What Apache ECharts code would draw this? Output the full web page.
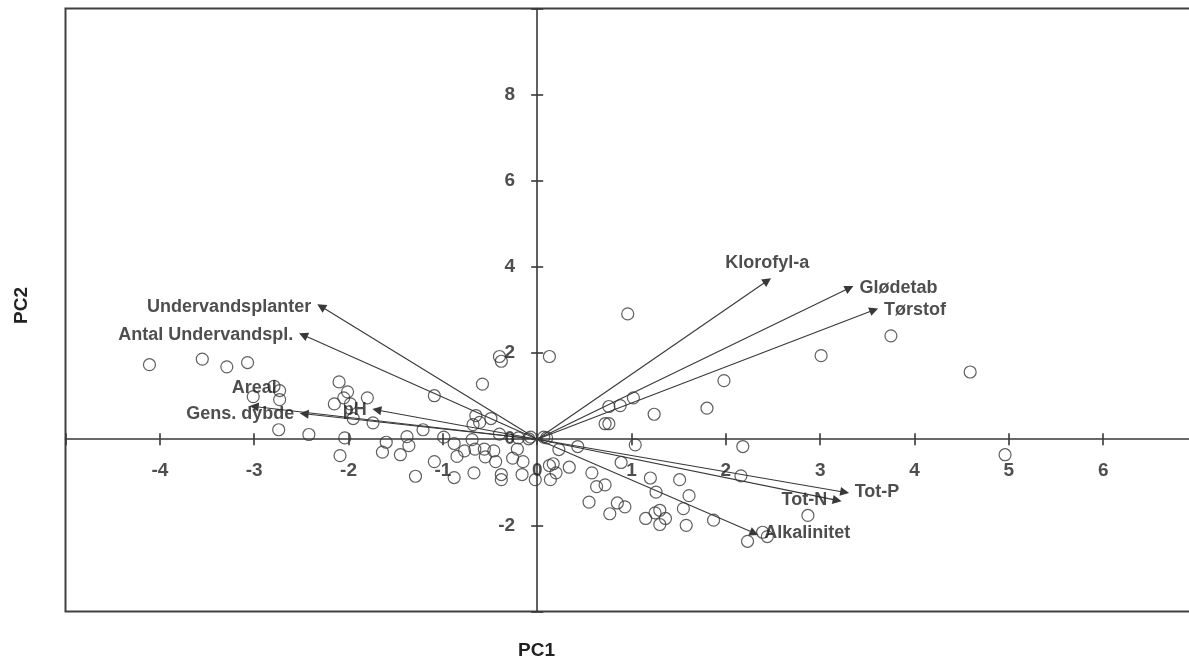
<!DOCTYPE html>
<html>
<head>
<meta charset="utf-8">
<script src="https://cdn.jsdelivr.net/npm/echarts@6/dist/echarts.min.js"></script>
<style>
  html, body { margin: 0; padding: 0; background: #ffffff; }
  #chart { width: 1189px; height: 663px; }
</style>
</head>
<body>
<div id="chart"></div>
<script>
// Site scores on the first two principal components
const sitePC1 = [
  -4.11, -3.55, -3.29, -3.07, -2.79, -2.73, -2.73, -3.01, -2.74, -2.42,
  -2.10, -2.01, -2.05, -2.15, -1.98, -1.80, -1.95, -1.74, -2.04, -2.09,
  -1.60, -1.64, -1.38, -1.36, -1.45, -1.21, -1.29, -0.40, -0.38, 0.13,
  -0.58, -1.09, -0.65, -0.61, -0.68, -0.49, -0.40, -0.99, -0.88, -0.69,
  -0.77, -0.66, -0.56, -0.46, -0.20, -0.07, -0.21, -0.85, -1.09, -0.55,
  -0.44, -0.26, -0.15, -0.67, -0.88, -0.38, -0.38, -0.16, -0.02, 0.13,
  0.17, 0.14, 0.20, 0.34, 0.07, 0.23, 0.43, 0.58, 0.63, 0.76,
  0.72, 1.04, 2.18, 0.89, 1.20, 1.51, 2.16, 0.72, 1.26, 1.61,
  0.55, 0.85, 0.93, 0.77, 1.30, 1.25, 1.55, 1.15, 1.36, 1.30,
  1.58, 1.87, 2.23, 2.39, 2.44, 0.96, 3.01, 3.75, 4.59, 1.98,
  1.80, 1.24, 0.76, 0.88, 1.02, 4.96, 2.87, -0.09, 0.10
];
const sitePC2 = [
  1.73, 1.86, 1.68, 1.78, 1.23, 1.13, 0.92, 0.99, 0.22, 0.11,
  1.33, 1.10, 0.96, 0.82, 0.82, 0.96, 0.48, 0.38, 0.03, -0.38,
  -0.07, -0.30, 0.06, -0.15, -0.36, 0.22, -0.86, 1.92, 1.81, 1.92,
  1.28, 1.01, 0.55, 0.39, 0.34, 0.48, 0.12, 0.05, -0.10, -0.01,
  -0.27, -0.23, -0.23, -0.27, 0.03, 0.05, -0.23, -0.40, -0.52, -0.41,
  -0.52, -0.44, -0.52, -0.78, -0.89, -0.82, -0.94, -0.82, -0.94, -0.61,
  -0.57, -0.94, -0.78, -0.65, 0.05, -0.24, -0.17, -0.78, -1.10, 0.36,
  0.36, -0.13, -0.17, -0.54, -0.90, -0.94, -0.85, -1.06, -1.23, -1.31,
  -1.46, -1.48, -1.57, -1.73, -1.65, -1.71, -1.61, -1.84, -1.84, -1.98,
  -2.00, -1.88, -2.37, -2.16, -2.26, 2.91, 1.94, 2.40, 1.56, 1.36,
  0.72, 0.58, 0.76, 0.78, 0.96, -0.36, -1.77, 0.01, 0.03
];

// Variable loadings (arrow end points)
const loadingNames = [
  'Undervandsplanter', 'Antal Undervandspl.', 'Areal', 'Gens. dybde', 'pH',
  'Klorofyl-a', 'Glødetab', 'Tørstof', 'Tot-P', 'Tot-N', 'Alkalinitet'
];
const loadingPC1 = [-2.29, -2.48, -3.00, -2.47, -1.70, 2.44, 3.31, 3.57, 3.26, 3.18, 2.30];
const loadingPC2 = [3.08, 2.42, 0.76, 0.59, 0.68, 3.68, 3.51, 3.00, -1.23, -1.42, -2.18];

// Tick labels printed along the two axes (which cross at the origin)
const xTickLabels = [-4, -3, -2, -1, 0, 1, 2, 3, 4, 5, 6];
const yTickLabels = [-2, 0, 2, 4, 6, 8];

// Where each variable name sits relative to its arrow head
const labelSide = {
  'Undervandsplanter': 'left',
  'Antal Undervandspl.': 'left',
  'Areal': 'top',
  'Gens. dybde': 'left',
  'pH': 'left',
  'Klorofyl-a': 'top',
  'Glødetab': 'right',
  'Tørstof': 'right',
  'Tot-P': 'right',
  'Tot-N': 'left',
  'Alkalinitet': 'right'
};

const INK = '#383838';
const TEXT = '#222222';
const FONT = '"Liberation Sans", Arial, Helvetica, sans-serif';

const sitePoints = sitePC1.map((x, i) => [x, sitePC2[i]]);
const arrowData = loadingNames.map((name, i) => ({
  name: name,
  coords: [[0, 0], [loadingPC1[i], loadingPC2[i]]]
}));
const arrowLabelData = loadingNames.map((name, i) => ({
  name: name,
  value: [loadingPC1[i], loadingPC2[i]],
  label: {
    position: labelSide[name],
    distance: labelSide[name] === 'top' ? 9 : 10
  }
}));
const xTickPoints = xTickLabels.map(v => ({ name: String(v), value: [v, 0] }));
const yTickPoints = yTickLabels.map(v => ({ name: String(v), value: [0, v] }));

function valueAxis(dim, showLine, insideTicks) {
  const isX = dim === 'x';
  return {
    type: 'value',
    position: isX ? 'bottom' : 'left',
    min: isX ? -5 : -4,
    max: isX ? 7 : 10,
    interval: isX ? 1 : 2,
    axisLine: { show: showLine, onZero: true, lineStyle: { color: INK, width: 1.6 } },
    axisTick: { show: true, inside: insideTicks, length: 6, lineStyle: { color: INK, width: 1.6 } },
    splitLine: { show: false },
    axisLabel: { show: false }
  };
}

const tickLabelStyle = {
  show: true,
  formatter: p => p.name,
  color: TEXT,
  fontFamily: FONT,
  fontWeight: 'bold',
  fontSize: 19
};

const chart = echarts.init(document.getElementById('chart'), null, { renderer: 'canvas' });

chart.setOption({
  animation: false,
  backgroundColor: '#ffffff',
  grid: {
    show: true,
    left: 65.5,
    top: 8.5,
    width: 1132,
    height: 603,
    containLabel: false,
    outerBoundsMode: 'none',
    borderColor: '#404040',
    borderWidth: 2,
    backgroundColor: 'transparent'
  },
  xAxis: [
    valueAxis('x', true, false),
    valueAxis('x', false, true)
  ],
  yAxis: [
    valueAxis('y', true, false),
    valueAxis('y', false, true)
  ],
  graphic: [
    {
      type: 'text', left: 518, top: 641,
      style: { text: 'PC1', fill: TEXT, font: 'bold 19px ' + FONT }
    },
    {
      type: 'text', x: 12, y: 324, rotation: Math.PI / 2,
      style: { text: 'PC2', fill: TEXT, font: 'bold 19px ' + FONT }
    }
  ],
  series: [
    {
      name: 'Loadings',
      type: 'lines',
      coordinateSystem: 'cartesian2d',
      symbol: ['none', 'triangle'],
      symbolSize: [0, 9],
      lineStyle: { color: INK, width: 1.1, opacity: 1 },
      data: arrowData,
      z: 3
    },
    {
      name: 'Sites',
      type: 'scatter',
      symbol: 'circle',
      symbolSize: 12,
      itemStyle: { color: 'rgba(0,0,0,0)', borderColor: INK, borderWidth: 1.2 },
      data: sitePoints,
      z: 4
    },
    {
      name: 'Loading names',
      type: 'scatter',
      symbolSize: 0,
      silent: true,
      label: {
        show: true,
        formatter: p => p.name,
        color: TEXT,
        fontFamily: FONT,
        fontWeight: 'bold',
        fontSize: 18
      },
      data: arrowLabelData,
      z: 5
    },
    {
      name: 'PC1 ticks',
      type: 'scatter',
      symbolSize: 0,
      silent: true,
      label: Object.assign({ position: 'bottom', distance: 22 }, tickLabelStyle),
      data: xTickPoints,
      z: 5
    },
    {
      name: 'PC2 ticks',
      type: 'scatter',
      symbolSize: 0,
      silent: true,
      label: Object.assign({ position: 'left', distance: 22 }, tickLabelStyle),
      data: yTickPoints,
      z: 5
    }
  ]
});
</script>
</body>
</html>
